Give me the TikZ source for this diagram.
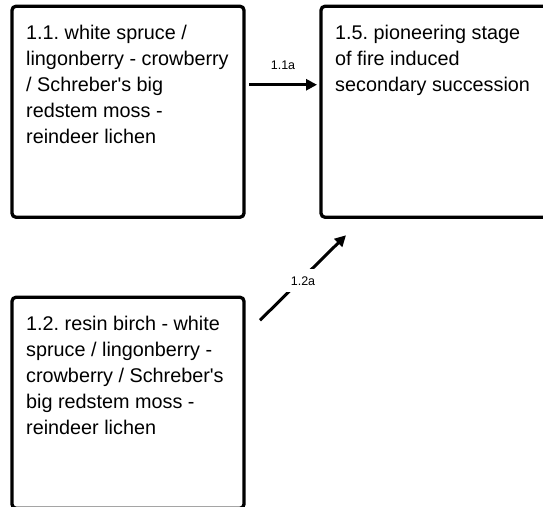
\documentclass[tikz,border=0pt]{standalone}
\usepackage{fontspec}
\setmainfont{Liberation Sans}
\frenchspacing
\usetikzlibrary{positioning,arrows.meta}

\begin{document}
\begin{tikzpicture}[x=1pt,y=-1pt,>={Triangle[length=11pt,width=11pt]},
  stage/.style={draw,line width=3.3pt,rounded corners=4pt,minimum width=232pt,minimum height=211pt,outer sep=0pt},
  stagetext/.style={anchor=north west,inner sep=0pt,align=left,font=\fontsize{19.8}{26}\selectfont},
  flow/.style={->,line width=3pt},
  flowlabel/.style={font=\fontsize{12.5}{14}\selectfont,inner sep=2pt}]
\useasboundingbox (0,0) rectangle (543,506);
\node[stage] (s11) at (128,111.75) {};
\node[stage,right=77pt of s11] (s15) {};
\node[stage,below=80pt of s11] (s12) {};
\node[stagetext,below right=18.5pt and 14pt of s11.north west] (t11) {1.1. white spruce /\\lingonberry - crowberry\\/ Schreber\textquotesingle s big\\redstem moss -\\reindeer lichen};
\node[stagetext,below right=18.5pt and 14pt of s15.north west] (t15) {1.5. pioneering stage\\of fire induced\\secondary succession};
\node[stagetext,below right=18.5pt and 14pt of s12.north west] (t12) {1.2. resin birch - white\\spruce / lingonberry -\\crowberry / Schreber\textquotesingle s\\big redstem moss -\\reindeer lichen};
\draw[flow] ([xshift=5pt,yshift=27pt]s11.east) -- node[flowlabel,above=12pt] (l11a) {1.1a} ([xshift=-4pt,yshift=27pt]s15.west);
\draw[flow] ([shift={(16pt,-23pt)}]s12.north east) -- node[flowlabel,fill=white,inner xsep=6pt,inner ysep=7pt,yshift=-3pt] (l12a) {1.2a} ([shift={(25pt,-18pt)}]s15.south west);
\end{tikzpicture}
\end{document}
